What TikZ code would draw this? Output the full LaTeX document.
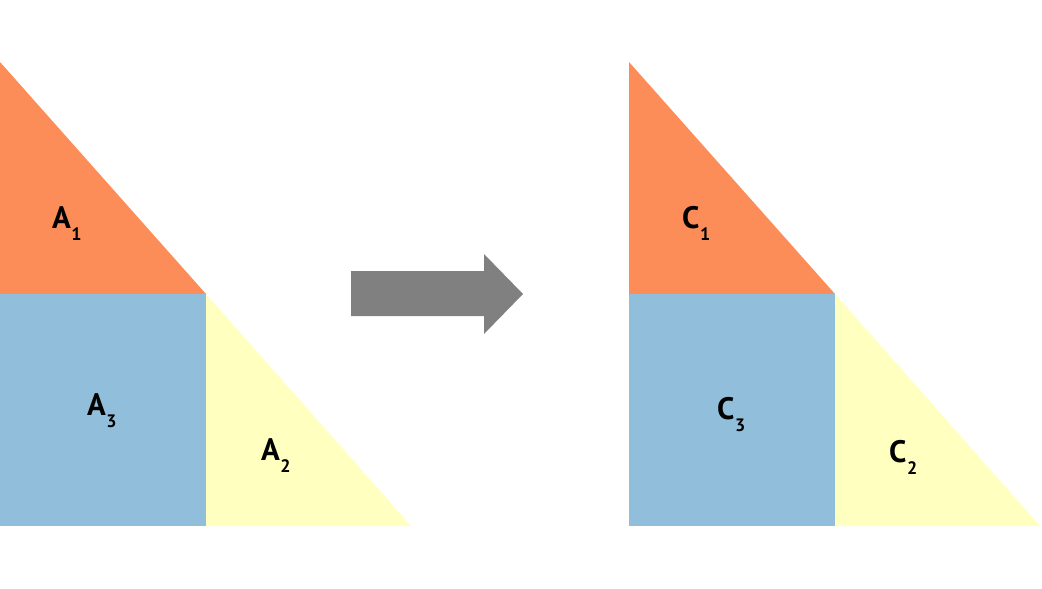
\documentclass[tikz,border=0pt]{standalone}
\usepackage{fontspec}
\setmainfont{PT Sans}
\definecolor{corange}{HTML}{FC8D59}
\definecolor{cblue}{HTML}{91BFDB}
\definecolor{cyellow}{HTML}{FFFFBF}
\definecolor{cgray}{HTML}{808080}
\newcommand{\lbl}[2]{#1\kern0.5pt\raisebox{-12pt}{\fontsize{18}{18}\selectfont #2}}
\begin{document}
\begin{tikzpicture}[x=1pt,y=-1pt,
  lab/.style={anchor=base west,inner sep=0pt,font=\fontsize{31}{31}\selectfont\bfseries}]
\useasboundingbox (0,0) rectangle (1042,589);
% left
\fill[corange] (0,62) -- (0,294) -- (206,294) -- cycle;
\fill[cblue] (0,294) rectangle (206,526);
\fill[cyellow] (206,294) -- (206,526) -- (411,526) -- cycle;
% right
\fill[corange] (629,62) -- (629,294) -- (835,294) -- cycle;
\fill[cblue] (629,294) rectangle (835,526);
\fill[cyellow] (835,294) -- (835,526) -- (1040,526) -- cycle;
% arrow
\fill[cgray] (351,271) -- (484,271) -- (484,254) -- (523,294) -- (484,334) -- (484,316) -- (351,316) -- cycle;
% labels
\node[lab] (a1) at (52,228) {\lbl{A}{1}};
\node[lab] (a3) at (87,415) {\lbl{A}{3}};
\node[lab] (a2) at (261,460) {\lbl{A}{2}};
\node[lab] (c1) at (682,228) {\lbl{C}{1}};
\node[lab] (c3) at (717,419) {\lbl{C}{3}};
\node[lab] (c2) at (889,462) {\lbl{C}{2}};
\end{tikzpicture}
\end{document}
